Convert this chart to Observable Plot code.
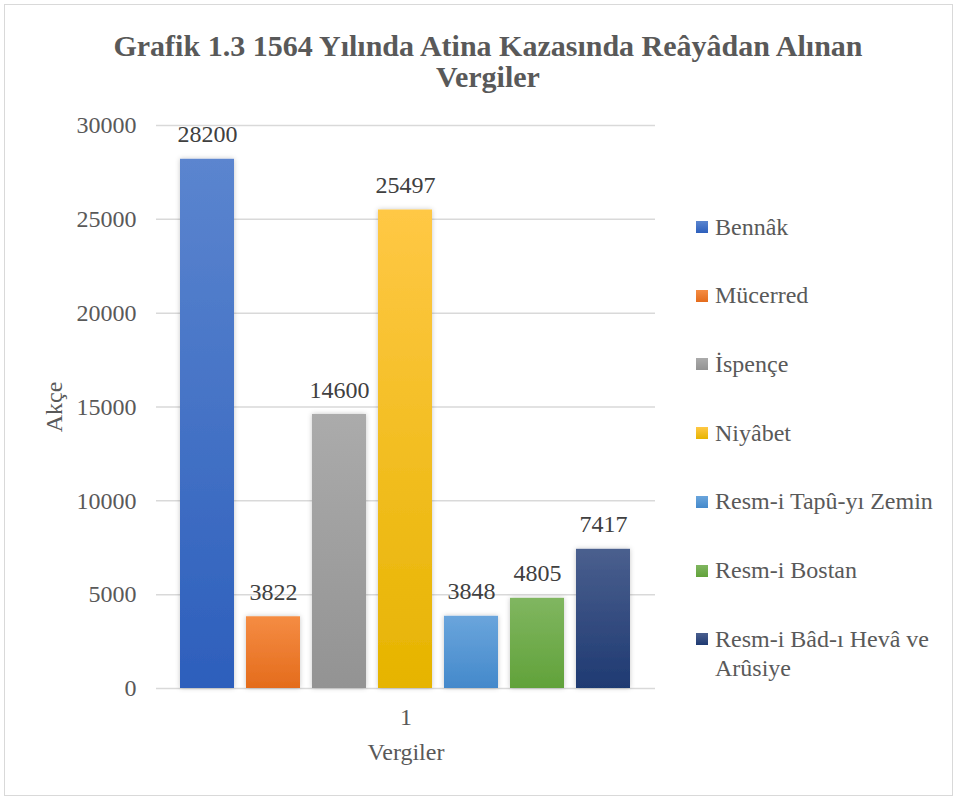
<!DOCTYPE html>
<html>
<head>
<meta charset="utf-8">
<script src="https://cdn.jsdelivr.net/npm/d3@7"></script>
<script src="https://cdn.jsdelivr.net/npm/@observablehq/plot@0.6"></script>
<style>
  body { margin: 0; background: #fff; }
  #wrap { position: relative; width: 957px; height: 799px; font-family: "Liberation Serif", Tinos, "Times New Roman", Times, serif; }
  #border { position: absolute; left: 4px; top: 4px; width: 947px; height: 790px; border: 1px solid #d9d9d9; pointer-events: none; }
  #title { position: absolute; left: 0; width: 976px; top: 30px; text-align: center; font-weight: bold; font-size: 30px; line-height: 31px; color: #595959; }
  #chart { position: absolute; left: 0; top: 0; }
  .item { position: absolute; left: 696px; display: flex; align-items: flex-start; font-size: 24px; line-height: 29px; color: #595959; }
  .sw { width: 12px; height: 12px; margin-top: 8.5px; margin-right: 7px; flex: none; }
  .lab { width: 235px; }
</style>
</head>
<body>
<div id="wrap">
  <div id="chart"></div>
  <div id="title">Grafik 1.3 1564 Yılında Atina Kazasında Reâyâdan Alınan<br>Vergiler</div>
  <div id="legend"></div>
  <div id="border"></div>
</div>
<script>
const category = "1";
const series = ["Bennâk", "Mücerred", "İspençe", "Niyâbet", "Resm-i Tapû-yı Zemin", "Resm-i Bostan", "Resm-i Bâd-ı Hevâ ve Arûsiye"];
const values = [28200, 3822, 14600, 25497, 3848, 4805, 7417];
const colorTop = ["#5b85cf", "#f58c43", "#ababab", "#ffc845", "#6aa5dc", "#80b660", "#4a5f8e"];
const colorBottom = ["#2d5fbc", "#e46c1c", "#939393", "#e6b400", "#4489cb", "#61a23a", "#1f3a72"];
const yTicks = [0, 5000, 10000, 15000, 20000, 25000, 30000];
const yLabel = "Akçe";
const fxLabel = "Vergiler";

const data = series.map((s, i) => ({cat: category, series: s, value: values[i], fill: `url(#grad${i})`}));

const NS = "http://www.w3.org/2000/svg";
function defsMark() {
  const defs = document.createElementNS(NS, "defs");
  series.forEach((s, i) => {
    const g = document.createElementNS(NS, "linearGradient");
    g.setAttribute("id", `grad${i}`);
    g.setAttribute("x1", "0"); g.setAttribute("y1", "0");
    g.setAttribute("x2", "0"); g.setAttribute("y2", "1");
    const s1 = document.createElementNS(NS, "stop");
    s1.setAttribute("offset", "0"); s1.setAttribute("stop-color", colorTop[i]);
    const s2 = document.createElementNS(NS, "stop");
    s2.setAttribute("offset", "1"); s2.setAttribute("stop-color", colorBottom[i]);
    g.appendChild(s1); g.appendChild(s2);
    defs.appendChild(g);
  });
  const f = document.createElementNS(NS, "filter");
  f.setAttribute("id", "shadow");
  f.setAttribute("x", "-20%"); f.setAttribute("y", "-10%");
  f.setAttribute("width", "140%"); f.setAttribute("height", "120%");
  const ds = document.createElementNS(NS, "feDropShadow");
  ds.setAttribute("dx", "0"); ds.setAttribute("dy", "0");
  ds.setAttribute("stdDeviation", "2.5");
  ds.setAttribute("flood-color", "#000");
  ds.setAttribute("flood-opacity", "0.22");
  f.appendChild(ds);
  defs.appendChild(f);
  const g = document.createElementNS(NS, "g");
  g.appendChild(defs);
  return g;
}

const FONT = "'Liberation Serif', Tinos, 'Times New Roman', Times, serif";

const chart = Plot.plot({
  width: 957,
  height: 799,
  marginTop: 125,
  marginBottom: 111,
  marginLeft: 156,
  marginRight: 302,
  style: {fontFamily: FONT, fontSize: "24px", color: "#595959", background: "transparent"},
  facet: {data, x: "cat"},
  fx: {padding: 0, tickSize: 0, tickPadding: 19, label: fxLabel, labelAnchor: "center", labelOffset: 71},
  x: {domain: series, paddingInner: 0.18, paddingOuter: 0.37, axis: null},
  y: {domain: [0, 30000], ticks: yTicks, tickSize: 0, tickPadding: 20, tickFormat: d => String(d), label: yLabel, labelAnchor: "center", labelOffset: 112, grid: false},
  color: {type: "identity"},
  marks: [
    defsMark,
    Plot.gridY(yTicks, {stroke: "#d9d9d9", strokeOpacity: 1, strokeWidth: 1.5}),
    Plot.barY(data, {x: "series", y: "value", fill: "fill"}),
    Plot.text(data, {x: "series", y: "value", text: d => String(d.value), lineAnchor: "bottom", dy: -17, fill: "#404040", fontSize: 24})
  ]
});
chart.querySelectorAll("rect").forEach(r => { const f = r.getAttribute("fill"); if (f && f.startsWith("url")) r.setAttribute("filter", "url(#shadow)"); });
chart.querySelectorAll("text").forEach(t => {
  if (t.textContent.startsWith(yLabel)) t.textContent = yLabel;
  if (t.textContent.startsWith(fxLabel)) t.textContent = fxLabel;
});
document.getElementById("chart").appendChild(chart);

const legend = document.getElementById("legend");
series.forEach((s, i) => {
  const item = document.createElement("div");
  item.className = "item";
  item.style.top = (212.5 + i * 68.7) + "px";
  const sw = document.createElement("div");
  sw.className = "sw";
  sw.style.background = `linear-gradient(${colorTop[i]}, ${colorBottom[i]})`;
  const lab = document.createElement("div");
  lab.className = "lab";
  lab.textContent = s;
  item.appendChild(sw); item.appendChild(lab);
  legend.appendChild(item);
});
</script>
</body>
</html>
